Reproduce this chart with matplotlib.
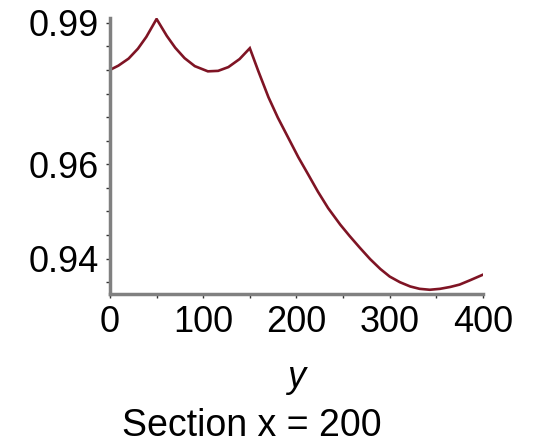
import matplotlib
matplotlib.use("Agg")
import matplotlib.pyplot as plt
from matplotlib.ticker import FixedLocator, MultipleLocator

# Section x = 200
y_pos = [0, 9, 20, 30, 39, 50, 61, 70, 80, 91, 105, 116, 127, 139, 150,
         159, 170, 180, 191, 202, 213, 223, 234, 247, 257, 268, 279, 290,
         300, 311, 322, 332, 343, 354, 365, 375, 386, 400]
value = [0.9800, 0.9809, 0.9824, 0.9845, 0.9870, 0.9908, 0.9872, 0.9847,
         0.9825, 0.9808, 0.9797, 0.9798, 0.9806, 0.9823, 0.9846, 0.9798,
         0.9742, 0.9699, 0.9657, 0.9615, 0.9577, 0.9542, 0.9507, 0.9472,
         0.9448, 0.9423, 0.9399, 0.9378, 0.9362, 0.9350, 0.9341, 0.9336,
         0.9334, 0.9336, 0.9340, 0.9345, 0.9354, 0.9366]

x_major = [0, 100, 200, 300, 400]
y_major = [0.94, 0.96, 0.99]
y_labels = ["0.94", "0.96", "0.99"]

plt.rcParams['font.family'] = ['Liberation Sans', 'DejaVu Sans']

fig = plt.figure(figsize=(5.39, 4.45), dpi=100)
ax = fig.add_axes([0.204, 0.3393, 0.692, 0.6202])

ax.plot(y_pos, value, color='#7f1424', linewidth=1.9, solid_joinstyle='miter')

ax.set_xlim(0, 400)
ax.set_ylim(0.9325, 0.991)

ax.xaxis.set_major_locator(FixedLocator(x_major))
ax.xaxis.set_minor_locator(MultipleLocator(50))
ax.yaxis.set_major_locator(FixedLocator(y_major))
ax.yaxis.set_minor_locator(MultipleLocator(0.005))
ax.set_yticklabels(y_labels)

for side in ['top', 'right']:
    ax.spines[side].set_visible(False)
for side in ['left', 'bottom']:
    ax.spines[side].set_color('#808080')
    ax.spines[side].set_linewidth(2.5)

ax.tick_params(which='both', direction='out', length=3, width=1.0,
               color='#333333', labelsize=26, pad=5)

ax.set_xlabel('y', fontsize=26, fontstyle='italic', labelpad=14)
fig.text(0.4675, 0.043, 'Section x = 200', fontsize=27, ha='center', va='center')

fig.savefig('out.png', dpi=100)
